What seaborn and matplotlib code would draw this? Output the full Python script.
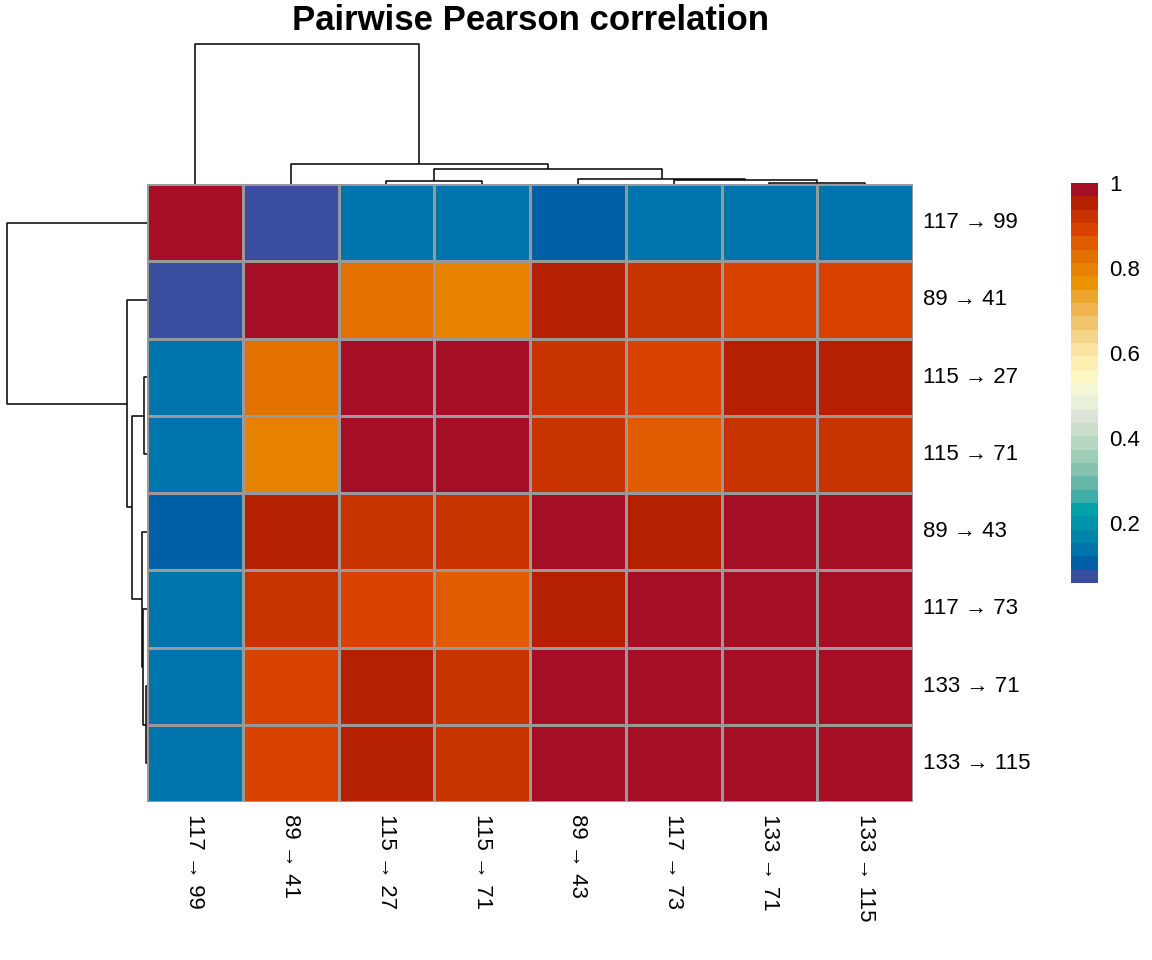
import numpy as np
import pandas as pd
import seaborn as sns
import matplotlib
matplotlib.use("Agg")
import matplotlib.pyplot as plt
from matplotlib.colors import ListedColormap

# ---- data ----
labels = ["117 → 99", "89 → 41", "115 → 27", "115 → 71",
          "89 → 43", "117 → 73", "133 → 71", "133 → 115"]

r_117_99  = [1.000, 0.060, 0.130, 0.130, 0.120, 0.130, 0.130, 0.130]
r_89_41   = [0.060, 1.000, 0.815, 0.805, 0.965, 0.908, 0.880, 0.880]
r_115_27  = [0.130, 0.815, 1.000, 0.985, 0.934, 0.904, 0.940, 0.940]
r_115_71  = [0.130, 0.805, 0.985, 1.000, 0.915, 0.872, 0.912, 0.912]
r_89_43   = [0.120, 0.965, 0.934, 0.915, 1.000, 0.967, 0.980, 0.980]
r_117_73  = [0.130, 0.908, 0.904, 0.872, 0.967, 1.000, 0.990, 0.990]
r_133_71  = [0.130, 0.880, 0.940, 0.912, 0.980, 0.990, 1.000, 0.985]
r_133_115 = [0.130, 0.880, 0.940, 0.912, 0.980, 0.990, 0.985, 1.000]

cbar_ticks = [0.2, 0.4, 0.6, 0.8, 1.0]
cbar_ticklabels = ["0.2", "0.4", "0.6", "0.8", "1"]
title = "Pairwise Pearson correlation"

# palette listed from high (top of legend) to low (bottom)
palette_high_to_low = [
    "#A50F25", "#B52100", "#C83300", "#DA4200", "#DF5C00", "#E37000",
    "#E68200", "#E99300", "#EEA52E", "#EFB34F", "#F1C46D", "#F4D588",
    "#F8E4A0", "#FBEEB0", "#FCF8C4", "#F3F7D8", "#E8F0DA", "#DCE3D8",
    "#CBDDCB", "#B6D6C0", "#9ECDB8", "#85C3B0", "#66B9A9", "#3FAEA8",
    "#00A2A8", "#0093A9", "#0085AA", "#0074AC", "#0060A7", "#3A4D9F",
]

corr = pd.DataFrame(
    np.array([r_117_99, r_89_41, r_115_27, r_115_71,
              r_89_43, r_117_73, r_133_71, r_133_115]),
    index=labels, columns=labels)

cmap = ListedColormap(palette_high_to_low[::-1])

sns.set_theme(style="white", rc={"text.color": "black",
                                 "xtick.color": "black",
                                 "ytick.color": "black",
                                 "axes.labelcolor": "black"})
plt.rcParams["font.family"] = ["Liberation Sans", "DejaVu Sans"]

W, H = 1152, 960
g = sns.clustermap(
    corr, method="complete", metric="euclidean",
    cmap=cmap, vmin=corr.values.min(), vmax=1.0,
    linewidths=1.0, linecolor="#999999",
    figsize=(W / 100, H / 100),
    xticklabels=True, yticklabels=True,
    cbar_pos=(0.93, 0.39, 0.023, 0.42),
)
fig = g.fig
fig.set_dpi(100)

def px(x0, y0, x1, y1):
    return [x0 / W, 1 - y1 / H, (x1 - x0) / W, (y1 - y0) / H]

g.ax_heatmap.set_position(px(147, 184, 913, 802))
g.ax_row_dendrogram.set_position(px(0, 184, 147, 802))
g.ax_col_dendrogram.set_position(px(147, 37, 913, 184))
g.ax_cbar.set_position(px(1071, 183, 1098, 583))

for ax in (g.ax_row_dendrogram, g.ax_col_dendrogram):
    for c in ax.collections:
        c.set_color("black")
        c.set_linewidth(1.1)

hm = g.ax_heatmap
hm.set_xlabel("")
hm.set_ylabel("")
hm.tick_params(axis="both", length=0, labelsize=16, labelcolor="black")
hm.tick_params(axis="y", pad=7)
hm.tick_params(axis="x", pad=9)
plt.setp(hm.get_xticklabels(), rotation=-90, ha="center", va="top")
plt.setp(hm.get_yticklabels(), rotation=0, va="center")

cb = hm.collections[0].colorbar
cb.outline.set_visible(False)
cb.set_ticks(cbar_ticks)
cb.set_ticklabels(cbar_ticklabels)
g.ax_cbar.tick_params(length=0, labelsize=16, pad=8, labelcolor="black")

fig.text(530 / W, 1 - 21 / H, title, ha="center", va="center",
         fontsize=25, fontweight="bold", color="black")

fig.savefig("out.png", dpi=100, facecolor="white")
